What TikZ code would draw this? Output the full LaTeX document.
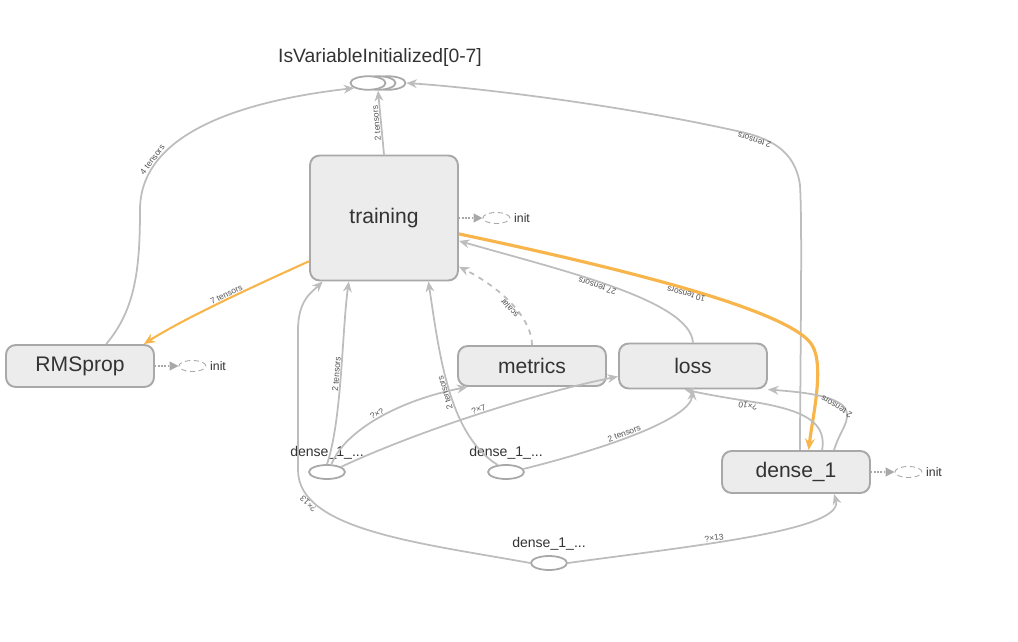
\documentclass[tikz,border=0pt]{standalone}
\usepackage{fontspec}
\setmainfont{Liberation Sans}
\usetikzlibrary{arrows.meta,positioning,shapes.geometric}
\definecolor{boxfill}{HTML}{ECECEC}
\definecolor{boxline}{HTML}{A8A8A8}
\definecolor{wiregray}{HTML}{BDBDBD}
\definecolor{flowcolor}{HTML}{F7B54C}
\definecolor{labeltext}{HTML}{333333}
\newcommand{\wirewidth}{1pt}
\newcommand{\flowwidth}{1.2pt}
\newcommand{\initgap}{0.47cm}
\tikzset{
  opbox/.style={draw=boxline, fill=boxfill, line width=1.1pt, rounded corners=5.5pt,
    minimum width=2.96cm, minimum height=0.84cm, text=labeltext,
    font=\fontsize{12}{14}\selectfont},
  opoval/.style={ellipse, draw=boxline, fill=white, line width=1pt, inner sep=0pt,
    minimum width=0.72cm, minimum height=0.28cm},
  initoval/.style={ellipse, draw=boxline, densely dashed, line width=0.5pt, inner sep=0pt,
    minimum width=0.54cm, minimum height=0.22cm},
  smalltext/.style={text=labeltext, inner sep=1pt, font=\fontsize{8}{9}\selectfont},
  inittext/.style={text=labeltext, inner sep=1pt, font=\fontsize{7}{8}\selectfont},
  wire/.style={draw=wiregray, line width=\wirewidth, -{Stealth[length=6pt,width=5pt]}},
  flow/.style={draw=flowcolor, line width=\flowwidth, -{Stealth[length=6.5pt,width=5.5pt]}},
  ctrlwire/.style={draw=boxline, densely dotted, line width=0.8pt, -{Triangle[length=5pt,width=5pt]}},
  wirelabel/.style={sloped, allow upside down, above, inner sep=0.4pt, text=labeltext!85,
    font=\fontsize{4.8}{5}\selectfont}
}

\begin{document}
\begin{tikzpicture}[x=0.02cm, y=-0.02cm]
\useasboundingbox (0,0) rectangle (1018,642);
%ops
\node[opbox, minimum height=2.5cm] (training) at (384,218) {training};
\node[opbox] (rmsprop) at (80,366) {RMSprop};
\node[opbox, minimum height=0.8cm] (metrics) at (532,366) {metrics};
\node[opbox, minimum height=0.9cm] (loss) at (693,366) {loss};
\node[opbox] (dense1) at (796,472) {dense\_1};
%IsVariableInitialized
\node[opoval, minimum width=0.7cm, minimum height=0.27cm] (isvarc) at (388,83) {};
\node[opoval, minimum width=0.7cm, minimum height=0.27cm] (isvarb) at (378,83) {};
\node[opoval, minimum width=0.7cm, minimum height=0.27cm] (isvar) at (368,83) {};
\node[text=labeltext, font=\fontsize{11}{13}\selectfont] (isvarlabel) at (380,58) {IsVariableInitialized[0-7]};
%inputs
\node[opoval] (dense1a) at (327,472) {};
\node[smalltext, above=1.5pt of dense1a] (dense1alabel) {dense\_1\_...};
\node[opoval] (dense1b) at (506,472) {};
\node[smalltext, above=1.5pt of dense1b] (dense1blabel) {dense\_1\_...};
\node[opoval] (dense1c) at (549,563) {};
\node[smalltext, above=1.5pt of dense1c] (dense1clabel) {dense\_1\_...};
%init
\node[initoval, right=\initgap of training] (traininit) {};
\node[inittext, right=1pt of traininit] (traininittext) {init};
\node[initoval, right=\initgap of rmsprop] (rmspropinit) {};
\node[inittext, right=1pt of rmspropinit] (rmspropinittext) {init};
\node[initoval, right=\initgap of dense1] (dense1init) {};
\node[inittext, right=1pt of dense1init] (dense1inittext) {init};
\draw[ctrlwire] (training) -- (traininit);
\draw[ctrlwire] (rmsprop) -- (rmspropinit);
\draw[ctrlwire] (dense1) -- (dense1init);
%to IsVariableInitialized
\draw[wire] (training.north) -- (isvarb.south) node[wirelabel, midway] {2 tensors};
\draw[wire] (rmsprop.40) .. controls (135,310) and (140,270) .. (140,210)
  .. controls (140,130) and (250,100) .. (isvar.200) node[wirelabel, pos=0.23] {4 tensors};
\draw[wire] (dense1.80) .. controls (801,300) and (802,220) .. (800,185)
  .. controls (795,150) and (770,138) .. (737,131) node[wirelabel, pos=0.8] {2 tensors}
  .. controls (620,105) and (480,88) .. (isvarc.east);
%training
\draw[flow] (training.210) .. controls (250,288) and (185,318) .. (rmsprop.19)
  node[wirelabel, rotate=180, pos=0.45] {7 tensors};
\draw[flow, line width=1.8pt] (training.-12) .. controls (620,268) and (790,310) .. (812,345)
  node[wirelabel, rotate=180, pos=0.5] {10 tensors}
  .. controls (825,366) and (812,420) .. (dense1.60);
\draw[wire] (loss.north) .. controls (690,300) and (560,270) .. (training.-17)
  node[wirelabel, pos=0.55] {27 tensors};
\draw[wire, dashed] (metrics.north) .. controls (532,320) and (505,290) .. (training.-33)
  node[wirelabel, midway] {scalar};
%dense_1_...
\draw[wire] (dense1a.north) .. controls (342,420) and (342,330) .. (training.241)
  node[wirelabel, midway] {2 tensors};
\draw[wire] (dense1a.60) .. controls (345,430) and (400,400) .. (metrics.198)
  node[wirelabel, midway] {?×?};
\draw[wire] (dense1a.20) .. controls (420,430) and (540,392) .. (loss.188)
  node[wirelabel, midway] {?×7};
\draw[wire] (dense1b.140) .. controls (450,435) and (440,360) .. (training.-55)
  node[wirelabel, midway] {2 tensors};
\draw[wire] (dense1b.10) .. controls (600,450) and (690,420) .. (loss.south)
  node[wirelabel, pos=0.45] {2 tensors};
\draw[wire] (dense1c.west) .. controls (420,543) and (298,530) .. (298,470)
  node[wirelabel, pos=0.8] {?×13}
  -- (298,330) .. controls (298,300) and (312,292) .. (training.226);
\draw[wire] (dense1c.east) .. controls (700,545) and (845,530) .. (dense1.-30)
  node[wirelabel, pos=0.38] {?×13};
%dense_1
\draw[wire] (dense1.40) .. controls (826,425) and (810,412) .. (760,403)
  .. controls (720,397) and (700,393) .. (loss.250) node[wirelabel, pos=0.1] {?×10};
\draw[wire] (dense1.30) .. controls (840,430) and (852,420) .. (845,408)
  .. controls (835,395) and (800,392) .. (loss.south east) node[wirelabel, pos=0.15] {2 tensors};
\end{tikzpicture}
\end{document}
